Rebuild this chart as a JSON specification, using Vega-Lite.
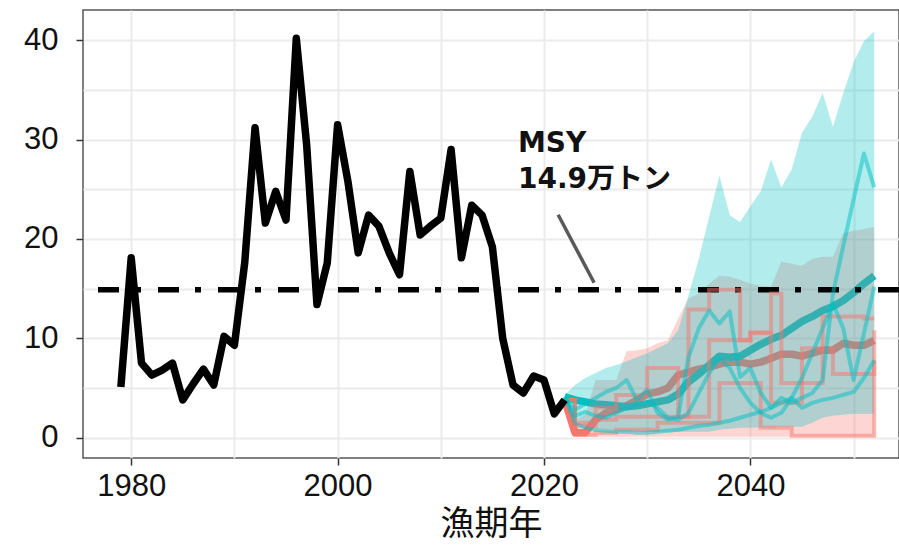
{
  "$schema": "https://vega.github.io/schema/vega-lite/v6.json",
  "width": 816,
  "height": 448,
  "autosize": {"type": "none"},
  "padding": {"left": 83, "top": 10, "right": 0, "bottom": 89},
  "background": "white",
  "config": {
    "view": {"stroke": "#555555", "strokeWidth": 1.5},
    "font": "Liberation Sans"
  },
  "datasets": {
    "hist": [
      {"year": 1979, "v": 5.1}, {"year": 1980, "v": 18.1}, {"year": 1981, "v": 7.5}, {"year": 1982, "v": 6.3},
      {"year": 1983, "v": 6.8}, {"year": 1984, "v": 7.5}, {"year": 1985, "v": 3.8}, {"year": 1986, "v": 5.4},
      {"year": 1987, "v": 6.9}, {"year": 1988, "v": 5.3}, {"year": 1989, "v": 10.2}, {"year": 1990, "v": 9.3},
      {"year": 1991, "v": 17.6}, {"year": 1992, "v": 31.2}, {"year": 1993, "v": 21.6}, {"year": 1994, "v": 24.8},
      {"year": 1995, "v": 21.9}, {"year": 1996, "v": 40.2}, {"year": 1997, "v": 29.5}, {"year": 1998, "v": 13.4},
      {"year": 1999, "v": 17.6}, {"year": 2000, "v": 31.5}, {"year": 2001, "v": 25.8}, {"year": 2002, "v": 18.6},
      {"year": 2003, "v": 22.4}, {"year": 2004, "v": 21.3}, {"year": 2005, "v": 18.6}, {"year": 2006, "v": 16.4},
      {"year": 2007, "v": 26.8}, {"year": 2008, "v": 20.4}, {"year": 2009, "v": 21.3}, {"year": 2010, "v": 22.1},
      {"year": 2011, "v": 29.0}, {"year": 2012, "v": 18.1}, {"year": 2013, "v": 23.4}, {"year": 2014, "v": 22.4},
      {"year": 2015, "v": 19.2}, {"year": 2016, "v": 10.0}, {"year": 2017, "v": 5.3}, {"year": 2018, "v": 4.5},
      {"year": 2019, "v": 6.2}, {"year": 2020, "v": 5.8}, {"year": 2021, "v": 2.4}, {"year": 2022, "v": 3.8}
    ],
    "proj": [
      {"year": 2022, "scen": "red", "med": 3.8, "lo": 3.8, "hi": 3.8},
      {"year": 2023, "scen": "red", "med": 0.5, "lo": 0.2, "hi": 1.8},
      {"year": 2024, "scen": "red", "med": 0.5, "lo": 0.1, "hi": 2.3},
      {"year": 2025, "scen": "red", "med": 1.8, "lo": 0.1, "hi": 5.8},
      {"year": 2026, "scen": "red", "med": 2.5, "lo": 0.1, "hi": 5.8},
      {"year": 2027, "scen": "red", "med": 2.8, "lo": 0.1, "hi": 5.8},
      {"year": 2028, "scen": "red", "med": 3.2, "lo": 0.1, "hi": 8.7},
      {"year": 2029, "scen": "red", "med": 3.8, "lo": 0.1, "hi": 8.8},
      {"year": 2030, "scen": "red", "med": 4.4, "lo": 0.1, "hi": 9.0},
      {"year": 2031, "scen": "red", "med": 4.6, "lo": 0.1, "hi": 9.5},
      {"year": 2032, "scen": "red", "med": 5.0, "lo": 0.1, "hi": 9.8},
      {"year": 2033, "scen": "red", "med": 6.3, "lo": 0.1, "hi": 12.0},
      {"year": 2034, "scen": "red", "med": 6.6, "lo": 0.1, "hi": 14.0},
      {"year": 2035, "scen": "red", "med": 6.9, "lo": 0.1, "hi": 14.5},
      {"year": 2036, "scen": "red", "med": 7.1, "lo": 0.1, "hi": 15.5},
      {"year": 2037, "scen": "red", "med": 7.4, "lo": 0.1, "hi": 16.3},
      {"year": 2038, "scen": "red", "med": 7.6, "lo": 0.1, "hi": 16.2},
      {"year": 2039, "scen": "red", "med": 7.6, "lo": 0.1, "hi": 15.9},
      {"year": 2040, "scen": "red", "med": 7.4, "lo": 0.1, "hi": 15.5},
      {"year": 2041, "scen": "red", "med": 7.6, "lo": 0.1, "hi": 15.3},
      {"year": 2042, "scen": "red", "med": 8.0, "lo": 0.1, "hi": 15.2},
      {"year": 2043, "scen": "red", "med": 8.4, "lo": 0.1, "hi": 17.7},
      {"year": 2044, "scen": "red", "med": 8.4, "lo": 0.1, "hi": 17.5},
      {"year": 2045, "scen": "red", "med": 8.2, "lo": 0.1, "hi": 17.3},
      {"year": 2046, "scen": "red", "med": 8.5, "lo": 0.1, "hi": 18.0},
      {"year": 2047, "scen": "red", "med": 8.8, "lo": 0.1, "hi": 18.2},
      {"year": 2048, "scen": "red", "med": 8.8, "lo": 0.1, "hi": 18.2},
      {"year": 2049, "scen": "red", "med": 9.5, "lo": 0.1, "hi": 20.6},
      {"year": 2050, "scen": "red", "med": 9.3, "lo": 0.1, "hi": 20.8},
      {"year": 2051, "scen": "red", "med": 9.3, "lo": 0.1, "hi": 21.0},
      {"year": 2052, "scen": "red", "med": 9.8, "lo": 0.1, "hi": 21.2},
      {"year": 2022, "scen": "cyan", "med": 4.1, "lo": 3.9, "hi": 4.3},
      {"year": 2023, "scen": "cyan", "med": 3.8, "lo": 1.8, "hi": 5.3},
      {"year": 2024, "scen": "cyan", "med": 3.6, "lo": 1.3, "hi": 6.0},
      {"year": 2025, "scen": "cyan", "med": 3.4, "lo": 1.0, "hi": 6.5},
      {"year": 2026, "scen": "cyan", "med": 3.3, "lo": 0.9, "hi": 7.0},
      {"year": 2027, "scen": "cyan", "med": 3.2, "lo": 0.8, "hi": 7.3},
      {"year": 2028, "scen": "cyan", "med": 3.1, "lo": 0.8, "hi": 7.7},
      {"year": 2029, "scen": "cyan", "med": 3.2, "lo": 0.7, "hi": 8.1},
      {"year": 2030, "scen": "cyan", "med": 3.4, "lo": 0.6, "hi": 8.5},
      {"year": 2031, "scen": "cyan", "med": 3.6, "lo": 0.6, "hi": 9.0},
      {"year": 2032, "scen": "cyan", "med": 3.8, "lo": 0.6, "hi": 9.5},
      {"year": 2033, "scen": "cyan", "med": 4.4, "lo": 0.6, "hi": 10.8},
      {"year": 2034, "scen": "cyan", "med": 5.6, "lo": 0.6, "hi": 14.3},
      {"year": 2035, "scen": "cyan", "med": 6.4, "lo": 0.6, "hi": 18.0},
      {"year": 2036, "scen": "cyan", "med": 7.3, "lo": 0.6, "hi": 22.2},
      {"year": 2037, "scen": "cyan", "med": 8.2, "lo": 0.8, "hi": 26.4},
      {"year": 2038, "scen": "cyan", "med": 8.1, "lo": 0.9, "hi": 22.4},
      {"year": 2039, "scen": "cyan", "med": 8.2, "lo": 1.0, "hi": 21.7},
      {"year": 2040, "scen": "cyan", "med": 8.8, "lo": 1.0, "hi": 23.3},
      {"year": 2041, "scen": "cyan", "med": 9.4, "lo": 1.0, "hi": 24.8},
      {"year": 2042, "scen": "cyan", "med": 9.9, "lo": 1.0, "hi": 28.0},
      {"year": 2043, "scen": "cyan", "med": 10.3, "lo": 1.1, "hi": 25.2},
      {"year": 2044, "scen": "cyan", "med": 11.0, "lo": 1.1, "hi": 27.0},
      {"year": 2045, "scen": "cyan", "med": 11.7, "lo": 1.1, "hi": 30.7},
      {"year": 2046, "scen": "cyan", "med": 12.2, "lo": 1.5, "hi": 32.3},
      {"year": 2047, "scen": "cyan", "med": 12.8, "lo": 2.0, "hi": 34.7},
      {"year": 2048, "scen": "cyan", "med": 13.2, "lo": 2.2, "hi": 31.3},
      {"year": 2049, "scen": "cyan", "med": 13.8, "lo": 2.3, "hi": 34.7},
      {"year": 2050, "scen": "cyan", "med": 14.6, "lo": 2.4, "hi": 37.8},
      {"year": 2051, "scen": "cyan", "med": 15.5, "lo": 2.4, "hi": 39.9},
      {"year": 2052, "scen": "cyan", "med": 16.3, "lo": 2.4, "hi": 40.9}
    ],
    "trajRed": [
      {"year": 2022, "sim": "r1", "v": 3.8}, {"year": 2023, "sim": "r1", "v": 1.2}, {"year": 2024, "sim": "r1", "v": 1.2},
      {"year": 2025, "sim": "r1", "v": 1.8}, {"year": 2026, "sim": "r1", "v": 1.8}, {"year": 2027, "sim": "r1", "v": 2.1},
      {"year": 2028, "sim": "r1", "v": 2.1}, {"year": 2029, "sim": "r1", "v": 2.1}, {"year": 2030, "sim": "r1", "v": 2.1},
      {"year": 2031, "sim": "r1", "v": 2.1}, {"year": 2032, "sim": "r1", "v": 2.1}, {"year": 2033, "sim": "r1", "v": 2.1},
      {"year": 2034, "sim": "r1", "v": 12.9}, {"year": 2035, "sim": "r1", "v": 12.9}, {"year": 2036, "sim": "r1", "v": 14.9},
      {"year": 2037, "sim": "r1", "v": 14.9}, {"year": 2038, "sim": "r1", "v": 14.9}, {"year": 2039, "sim": "r1", "v": 9.8},
      {"year": 2040, "sim": "r1", "v": 10.6}, {"year": 2041, "sim": "r1", "v": 10.6}, {"year": 2042, "sim": "r1", "v": 14.5},
      {"year": 2043, "sim": "r1", "v": 5.5}, {"year": 2044, "sim": "r1", "v": 5.5}, {"year": 2045, "sim": "r1", "v": 5.5},
      {"year": 2046, "sim": "r1", "v": 5.5}, {"year": 2047, "sim": "r1", "v": 12.2}, {"year": 2048, "sim": "r1", "v": 12.2},
      {"year": 2049, "sim": "r1", "v": 12.2}, {"year": 2050, "sim": "r1", "v": 12.2}, {"year": 2051, "sim": "r1", "v": 12.0},
      {"year": 2052, "sim": "r1", "v": 12.0},
      {"year": 2022, "sim": "r2", "v": 3.8}, {"year": 2023, "sim": "r2", "v": 1.5}, {"year": 2024, "sim": "r2", "v": 1.5},
      {"year": 2025, "sim": "r2", "v": 3.0}, {"year": 2026, "sim": "r2", "v": 3.0}, {"year": 2027, "sim": "r2", "v": 4.3},
      {"year": 2028, "sim": "r2", "v": 4.3}, {"year": 2029, "sim": "r2", "v": 4.3}, {"year": 2030, "sim": "r2", "v": 7.0},
      {"year": 2031, "sim": "r2", "v": 7.0}, {"year": 2032, "sim": "r2", "v": 7.0}, {"year": 2033, "sim": "r2", "v": 2.1},
      {"year": 2034, "sim": "r2", "v": 2.1}, {"year": 2035, "sim": "r2", "v": 2.1}, {"year": 2036, "sim": "r2", "v": 9.8},
      {"year": 2037, "sim": "r2", "v": 9.8}, {"year": 2038, "sim": "r2", "v": 9.8}, {"year": 2039, "sim": "r2", "v": 9.8},
      {"year": 2040, "sim": "r2", "v": 10.5}, {"year": 2041, "sim": "r2", "v": 10.5}, {"year": 2042, "sim": "r2", "v": 3.5},
      {"year": 2043, "sim": "r2", "v": 3.5}, {"year": 2044, "sim": "r2", "v": 3.5}, {"year": 2045, "sim": "r2", "v": 9.0},
      {"year": 2046, "sim": "r2", "v": 9.0}, {"year": 2047, "sim": "r2", "v": 9.0}, {"year": 2048, "sim": "r2", "v": 6.4},
      {"year": 2049, "sim": "r2", "v": 6.4}, {"year": 2050, "sim": "r2", "v": 6.4}, {"year": 2051, "sim": "r2", "v": 6.4},
      {"year": 2052, "sim": "r2", "v": 10.8},
      {"year": 2022, "sim": "r3", "v": 3.8}, {"year": 2023, "sim": "r3", "v": 0.3}, {"year": 2024, "sim": "r3", "v": 0.3},
      {"year": 2025, "sim": "r3", "v": 0.5}, {"year": 2026, "sim": "r3", "v": 0.5}, {"year": 2027, "sim": "r3", "v": 0.8},
      {"year": 2028, "sim": "r3", "v": 0.8}, {"year": 2029, "sim": "r3", "v": 0.8}, {"year": 2030, "sim": "r3", "v": 0.8},
      {"year": 2031, "sim": "r3", "v": 1.5}, {"year": 2032, "sim": "r3", "v": 1.5}, {"year": 2033, "sim": "r3", "v": 1.5},
      {"year": 2034, "sim": "r3", "v": 1.5}, {"year": 2035, "sim": "r3", "v": 1.5}, {"year": 2036, "sim": "r3", "v": 1.5},
      {"year": 2037, "sim": "r3", "v": 5.5}, {"year": 2038, "sim": "r3", "v": 5.5}, {"year": 2039, "sim": "r3", "v": 5.5},
      {"year": 2040, "sim": "r3", "v": 5.5}, {"year": 2041, "sim": "r3", "v": 1.0}, {"year": 2042, "sim": "r3", "v": 1.0},
      {"year": 2043, "sim": "r3", "v": 1.0}, {"year": 2044, "sim": "r3", "v": 0.2}, {"year": 2045, "sim": "r3", "v": 0.2},
      {"year": 2046, "sim": "r3", "v": 0.2}, {"year": 2047, "sim": "r3", "v": 0.2}, {"year": 2048, "sim": "r3", "v": 0.2},
      {"year": 2049, "sim": "r3", "v": 0.2}, {"year": 2050, "sim": "r3", "v": 0.2}, {"year": 2051, "sim": "r3", "v": 0.2},
      {"year": 2052, "sim": "r3", "v": 7.8}
    ],
    "trajCyan": [
      {"year": 2022, "sim": "c1", "v": 4.1}, {"year": 2023, "sim": "c1", "v": 2.8}, {"year": 2024, "sim": "c1", "v": 3.4},
      {"year": 2025, "sim": "c1", "v": 4.0}, {"year": 2026, "sim": "c1", "v": 4.6}, {"year": 2027, "sim": "c1", "v": 5.0},
      {"year": 2028, "sim": "c1", "v": 5.8}, {"year": 2029, "sim": "c1", "v": 3.8}, {"year": 2030, "sim": "c1", "v": 4.8},
      {"year": 2031, "sim": "c1", "v": 2.5}, {"year": 2032, "sim": "c1", "v": 1.8}, {"year": 2033, "sim": "c1", "v": 2.1},
      {"year": 2034, "sim": "c1", "v": 8.1}, {"year": 2035, "sim": "c1", "v": 11.0}, {"year": 2036, "sim": "c1", "v": 12.8},
      {"year": 2037, "sim": "c1", "v": 11.5}, {"year": 2038, "sim": "c1", "v": 12.7}, {"year": 2039, "sim": "c1", "v": 6.1},
      {"year": 2040, "sim": "c1", "v": 7.0}, {"year": 2041, "sim": "c1", "v": 4.5}, {"year": 2042, "sim": "c1", "v": 3.0},
      {"year": 2043, "sim": "c1", "v": 4.0}, {"year": 2044, "sim": "c1", "v": 3.5}, {"year": 2045, "sim": "c1", "v": 4.0},
      {"year": 2046, "sim": "c1", "v": 4.5}, {"year": 2047, "sim": "c1", "v": 5.8}, {"year": 2048, "sim": "c1", "v": 14.5},
      {"year": 2049, "sim": "c1", "v": 19.3}, {"year": 2050, "sim": "c1", "v": 24.0}, {"year": 2051, "sim": "c1", "v": 28.6},
      {"year": 2052, "sim": "c1", "v": 25.2},
      {"year": 2022, "sim": "c2", "v": 4.1}, {"year": 2023, "sim": "c2", "v": 2.2}, {"year": 2024, "sim": "c2", "v": 2.6},
      {"year": 2025, "sim": "c2", "v": 2.2}, {"year": 2026, "sim": "c2", "v": 2.0}, {"year": 2027, "sim": "c2", "v": 2.5},
      {"year": 2028, "sim": "c2", "v": 3.0}, {"year": 2029, "sim": "c2", "v": 3.3}, {"year": 2030, "sim": "c2", "v": 3.6},
      {"year": 2031, "sim": "c2", "v": 3.0}, {"year": 2032, "sim": "c2", "v": 2.0}, {"year": 2033, "sim": "c2", "v": 1.8},
      {"year": 2034, "sim": "c2", "v": 2.5}, {"year": 2035, "sim": "c2", "v": 4.5}, {"year": 2036, "sim": "c2", "v": 6.5},
      {"year": 2037, "sim": "c2", "v": 8.0}, {"year": 2038, "sim": "c2", "v": 7.0}, {"year": 2039, "sim": "c2", "v": 5.0},
      {"year": 2040, "sim": "c2", "v": 3.5}, {"year": 2041, "sim": "c2", "v": 2.5}, {"year": 2042, "sim": "c2", "v": 2.0},
      {"year": 2043, "sim": "c2", "v": 2.5}, {"year": 2044, "sim": "c2", "v": 4.0}, {"year": 2045, "sim": "c2", "v": 6.0},
      {"year": 2046, "sim": "c2", "v": 8.5}, {"year": 2047, "sim": "c2", "v": 11.0}, {"year": 2048, "sim": "c2", "v": 13.5},
      {"year": 2049, "sim": "c2", "v": 11.0}, {"year": 2050, "sim": "c2", "v": 5.8}, {"year": 2051, "sim": "c2", "v": 10.5},
      {"year": 2052, "sim": "c2", "v": 15.2},
      {"year": 2022, "sim": "c3", "v": 4.1}, {"year": 2023, "sim": "c3", "v": 1.5}, {"year": 2024, "sim": "c3", "v": 1.0},
      {"year": 2025, "sim": "c3", "v": 0.8}, {"year": 2026, "sim": "c3", "v": 0.7}, {"year": 2027, "sim": "c3", "v": 0.6},
      {"year": 2028, "sim": "c3", "v": 0.6}, {"year": 2029, "sim": "c3", "v": 0.5}, {"year": 2030, "sim": "c3", "v": 0.5},
      {"year": 2031, "sim": "c3", "v": 0.6}, {"year": 2032, "sim": "c3", "v": 0.7}, {"year": 2033, "sim": "c3", "v": 0.8},
      {"year": 2034, "sim": "c3", "v": 1.0}, {"year": 2035, "sim": "c3", "v": 1.2}, {"year": 2036, "sim": "c3", "v": 1.3},
      {"year": 2037, "sim": "c3", "v": 1.5}, {"year": 2038, "sim": "c3", "v": 1.7}, {"year": 2039, "sim": "c3", "v": 2.0},
      {"year": 2040, "sim": "c3", "v": 2.3}, {"year": 2041, "sim": "c3", "v": 2.6}, {"year": 2042, "sim": "c3", "v": 3.0},
      {"year": 2043, "sim": "c3", "v": 3.5}, {"year": 2044, "sim": "c3", "v": 4.0}, {"year": 2045, "sim": "c3", "v": 3.0},
      {"year": 2046, "sim": "c3", "v": 3.5}, {"year": 2047, "sim": "c3", "v": 3.8}, {"year": 2048, "sim": "c3", "v": 4.0},
      {"year": 2049, "sim": "c3", "v": 4.3}, {"year": 2050, "sim": "c3", "v": 4.6}, {"year": 2051, "sim": "c3", "v": 6.0},
      {"year": 2052, "sim": "c3", "v": 7.8}
    ],
    "msy": [{"v": 14.9}],
    "pointer": [{"x1": 2021.37, "y1": 22.44, "x2": 2024.86, "y2": 15.59}],
    "note": [{"year": 2017.48, "v": 28.8, "label": "MSY\n14.9万トン"}]
  },
  "layer": [
    {
      "data": {"name": "proj"},
      "mark": {"type": "line", "strokeWidth": 7.5, "strokeJoin": "round", "strokeCap": "butt"},
      "encoding": {
        "x": {"field": "year", "type": "quantitative",
              "scale": {"domain": [1975.33, 2054.4], "nice": false, "zero": false},
              "axis": {"orient": "top", "values": [1980, 1990, 2000, 2010, 2020, 2030, 2040, 2050], "labels": false, "ticks": false, "domain": false, "title": null, "grid": true, "gridColor": "#EBEBEB", "gridWidth": 2}},
        "y": {"field": "med", "type": "quantitative",
              "scale": {"domain": [-2.05, 43.05], "nice": false, "zero": false},
              "axis": {"orient": "right", "values": [0, 5, 10, 15, 20, 25, 30, 35, 40], "labels": false, "ticks": false, "domain": false, "title": null, "grid": true, "gridColor": "#EBEBEB", "gridWidth": 2}},
        "color": {"field": "scen", "type": "nominal", "scale": {"domain": ["red", "cyan"], "range": ["#F8766D", "#00BFC4"]}, "legend": null}
      }
    },
    {
      "data": {"name": "proj"},
      "transform": [{"filter": "datum.scen === 'red'"}],
      "mark": {"type": "area", "color": "#F8766D", "opacity": 0.3},
      "encoding": {
        "x": {"field": "year", "type": "quantitative", "axis": null},
        "y": {"field": "lo", "type": "quantitative", "axis": null},
        "y2": {"field": "hi"}
      }
    },
    {
      "data": {"name": "proj"},
      "transform": [{"filter": "datum.scen === 'cyan'"}],
      "mark": {"type": "area", "color": "#00BFC4", "opacity": 0.3},
      "encoding": {
        "x": {"field": "year", "type": "quantitative", "axis": null},
        "y": {"field": "lo", "type": "quantitative", "axis": null},
        "y2": {"field": "hi"}
      }
    },
    {
      "data": {"name": "msy"},
      "mark": {"type": "rule", "color": "black", "strokeWidth": 5.5, "strokeDash": [21, 17, 6, 16], "strokeCap": "butt"},
      "encoding": {
        "y": {"field": "v", "type": "quantitative", "axis": null}
      }
    },
    {
      "data": {"name": "trajRed"},
      "mark": {"type": "line", "color": "#F8766D", "opacity": 0.5, "strokeWidth": 4, "interpolate": "step-after", "strokeCap": "butt"},
      "encoding": {
        "x": {"field": "year", "type": "quantitative", "axis": null},
        "y": {"field": "v", "type": "quantitative", "axis": null},
        "detail": {"field": "sim"}
      }
    },
    {
      "data": {"name": "trajCyan"},
      "mark": {"type": "line", "color": "#00BFC4", "opacity": 0.5, "strokeWidth": 4, "strokeJoin": "round"},
      "encoding": {
        "x": {"field": "year", "type": "quantitative", "axis": null},
        "y": {"field": "v", "type": "quantitative", "axis": null},
        "detail": {"field": "sim"}
      }
    },
    {
      "data": {"name": "hist"},
      "mark": {"type": "line", "color": "black", "strokeWidth": 7.5, "strokeJoin": "round", "strokeCap": "butt"},
      "encoding": {
        "x": {"field": "year", "type": "quantitative",
              "axis": {"orient": "bottom", "values": [1980, 2000, 2020, 2040], "format": "d", "grid": false, "domain": false,
                       "ticks": true, "tickColor": "#333333", "tickSize": 7, "tickWidth": 1.5,
                       "labelFontSize": 31, "labelColor": "#111111", "labelPadding": 6, "labelFont": "Liberation Sans",
                       "title": "漁期年", "titleFont": "Noto Sans CJK JP", "titleFontSize": 34, "titleFontWeight": "normal", "titleColor": "#111111", "titlePadding": 6}},
        "y": {"field": "v", "type": "quantitative",
              "axis": {"orient": "left", "values": [0, 10, 20, 30, 40], "grid": false, "domain": false,
                       "ticks": true, "tickColor": "#333333", "tickSize": 7, "tickWidth": 1.5,
                       "labelFontSize": 31, "labelColor": "#111111", "labelPadding": 18, "labelFont": "Liberation Sans", "title": null}}
      }
    },
    {
      "data": {"name": "pointer"},
      "mark": {"type": "rule", "color": "#595959", "strokeWidth": 3.5},
      "encoding": {
        "x": {"field": "x1", "type": "quantitative", "axis": null},
        "y": {"field": "y1", "type": "quantitative", "axis": null},
        "x2": {"field": "x2"},
        "y2": {"field": "y2"}
      }
    },
    {
      "data": {"name": "note"},
      "mark": {"type": "text", "align": "left", "baseline": "alphabetic", "font": "DejaVu Sans, Noto Sans CJK JP", "fontWeight": "bold", "fontSize": 28, "lineBreak": "\n", "lineHeight": 36, "color": "#111111"},
      "encoding": {
        "x": {"field": "year", "type": "quantitative", "axis": null},
        "y": {"field": "v", "type": "quantitative", "axis": null},
        "text": {"field": "label"}
      }
    }
  ],
  "resolve": {"axis": {"x": "independent", "y": "independent"}}
}
